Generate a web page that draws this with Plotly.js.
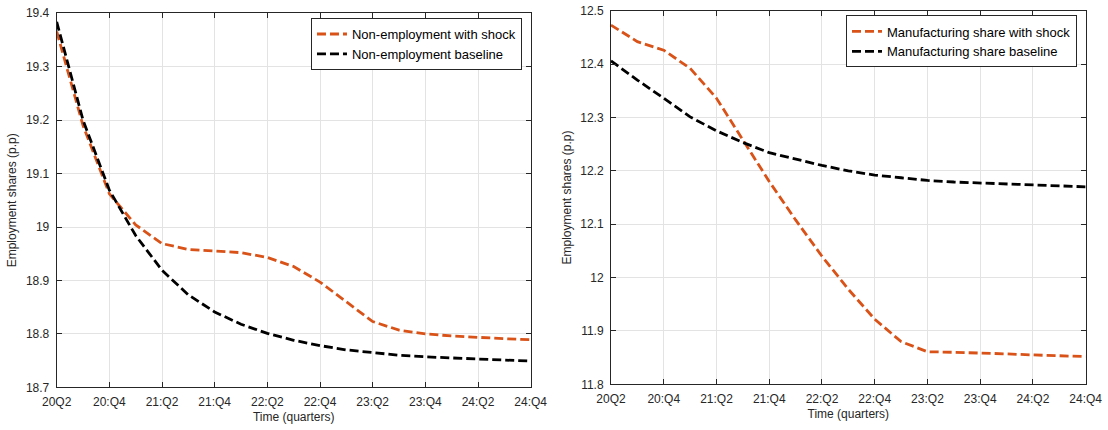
<!DOCTYPE html>
<html>
<head>
<meta charset="utf-8">
<script src="https://cdn.plot.ly/plotly-3.0.1.min.js"></script>
<style>
  html, body { margin: 0; padding: 0; background: #fff; }
  #chart { width: 1108px; height: 430px; }
</style>
</head>
<body>
<div id="chart"></div>
<script>
// Quarterly horizon, 2020Q2 to 2024Q4
const quarters = ["20Q2","20Q3","20Q4","21Q1","21Q2","21Q3","21Q4","22Q1","22Q2","22Q3",
                  "22Q4","23Q1","23Q2","23Q3","23Q4","24Q1","24Q2","24Q3","24Q4"];
const tickQuarters = ["20Q2","20Q4","21Q2","21Q4","22Q2","22Q4","23Q2","23Q4","24Q2","24Q4"];
const tickLabels = ["20Q2","20:Q4","21:Q2","21:Q4","22:Q2","22:Q4","23:Q2","23:Q4","24:Q2","24:Q4"];

// Non-employment share (p.p.)
const nonEmpShock = [19.366, 19.190, 19.062, 19.004, 18.969, 18.958, 18.955, 18.952, 18.943, 18.926,
                     18.897, 18.860, 18.823, 18.807, 18.800, 18.796, 18.793, 18.791, 18.789];
const nonEmpBase  = [19.384, 19.200, 19.069, 18.984, 18.919, 18.873, 18.841, 18.818, 18.801, 18.788,
                     18.778, 18.770, 18.765, 18.760, 18.757, 18.755, 18.753, 18.751, 18.749];

// Manufacturing share (p.p.)
const mfgShock = [12.473, 12.442, 12.426, 12.392, 12.336, 12.258, 12.180, 12.108, 12.040, 11.978,
                  11.922, 11.880, 11.861, 11.860, 11.859, 11.857, 11.855, 11.854, 11.852];
const mfgBase  = [12.406, 12.370, 12.336, 12.301, 12.275, 12.253, 12.234, 12.222, 12.210, 12.200,
                  12.192, 12.187, 12.182, 12.179, 12.177, 12.175, 12.173, 12.171, 12.170];

const ORANGE = "#D95319";
const INK = "#262626";
const FONT = "Liberation Sans, Arial, sans-serif";

const dashStyle = "9px,4px";
const LW = 2.8;

const traces = [
  {x: quarters, y: nonEmpShock, name: "Non-employment with shock", type: "scatter", mode: "lines",
   line: {color: ORANGE, width: LW, dash: dashStyle}, xaxis: "x", yaxis: "y", legend: "legend"},
  {x: quarters, y: nonEmpBase, name: "Non-employment baseline", type: "scatter", mode: "lines",
   line: {color: "#000000", width: LW, dash: dashStyle}, xaxis: "x", yaxis: "y", legend: "legend"},
  {x: quarters, y: mfgShock, name: "Manufacturing share with shock", type: "scatter", mode: "lines",
   line: {color: ORANGE, width: LW, dash: dashStyle}, xaxis: "x2", yaxis: "y2", legend: "legend2"},
  {x: quarters, y: mfgBase, name: "Manufacturing share baseline", type: "scatter", mode: "lines",
   line: {color: "#000000", width: LW, dash: dashStyle}, xaxis: "x2", yaxis: "y2", legend: "legend2"}
];

function xAxis(domain, anchor) {
  return {
    domain: domain, anchor: anchor, type: "category",
    categoryorder: "array", categoryarray: quarters,
    range: [0, quarters.length - 1],
    tickmode: "array", tickvals: tickQuarters, ticktext: tickLabels,
    ticks: "inside", ticklen: 5, tickwidth: 1, tickcolor: INK,
    ticklabelstandoff: 3,
    showline: true, linecolor: INK, linewidth: 1, mirror: "allticks",
    showgrid: true, gridcolor: "#e3e3e3", gridwidth: 1,
    zeroline: false, automargin: false,
    tickfont: {family: FONT, size: 12, color: INK},
    title: {text: "Time (quarters)", font: {family: FONT, size: 12, color: INK}, standoff: 4}
  };
}
function yAxis(domain, anchor, range) {
  return {
    domain: domain, anchor: anchor, range: range,
    tickmode: "linear", tick0: range[0], dtick: 0.1,
    ticks: "inside", ticklen: 5, tickwidth: 1, tickcolor: INK,
    ticklabelstandoff: 4,
    showline: true, linecolor: INK, linewidth: 1, mirror: "allticks",
    showgrid: true, gridcolor: "#e3e3e3", gridwidth: 1,
    zeroline: false, automargin: false,
    tickfont: {family: FONT, size: 12, color: INK},
    title: {text: "Employment shares (p.p)", font: {family: FONT, size: 12, color: INK}, standoff: 6}
  };
}
function legendBox(xRight, yTop) {
  return {
    x: xRight, y: yTop, xanchor: "right", yanchor: "top",
    bgcolor: "#ffffff", bordercolor: INK, borderwidth: 1,
    font: {family: FONT, size: 13, color: "#000"},
    tracegroupgap: 0, itemwidth: 30
  };
}

const layout = {
  width: 1108, height: 430,
  margin: {l: 0, r: 0, t: 0, b: 0},
  paper_bgcolor: "#ffffff", plot_bgcolor: "#ffffff",
  showlegend: true,
  xaxis: xAxis([0.05117, 0.47897], "y"),
  yaxis: yAxis([0.0993, 0.9691], "x", [18.7, 19.4]),
  xaxis2: xAxis([0.55144, 0.97987], "y2"),
  yaxis2: yAxis([0.10628, 0.97512], "x2", [11.8, 12.5]),
  legend: legendBox(0.4711, 0.958),
  legend2: legendBox(0.9720, 0.964)
};

Plotly.newPlot("chart", traces, layout, {staticPlot: true, displayModeBar: false});
</script>
</body>
</html>
